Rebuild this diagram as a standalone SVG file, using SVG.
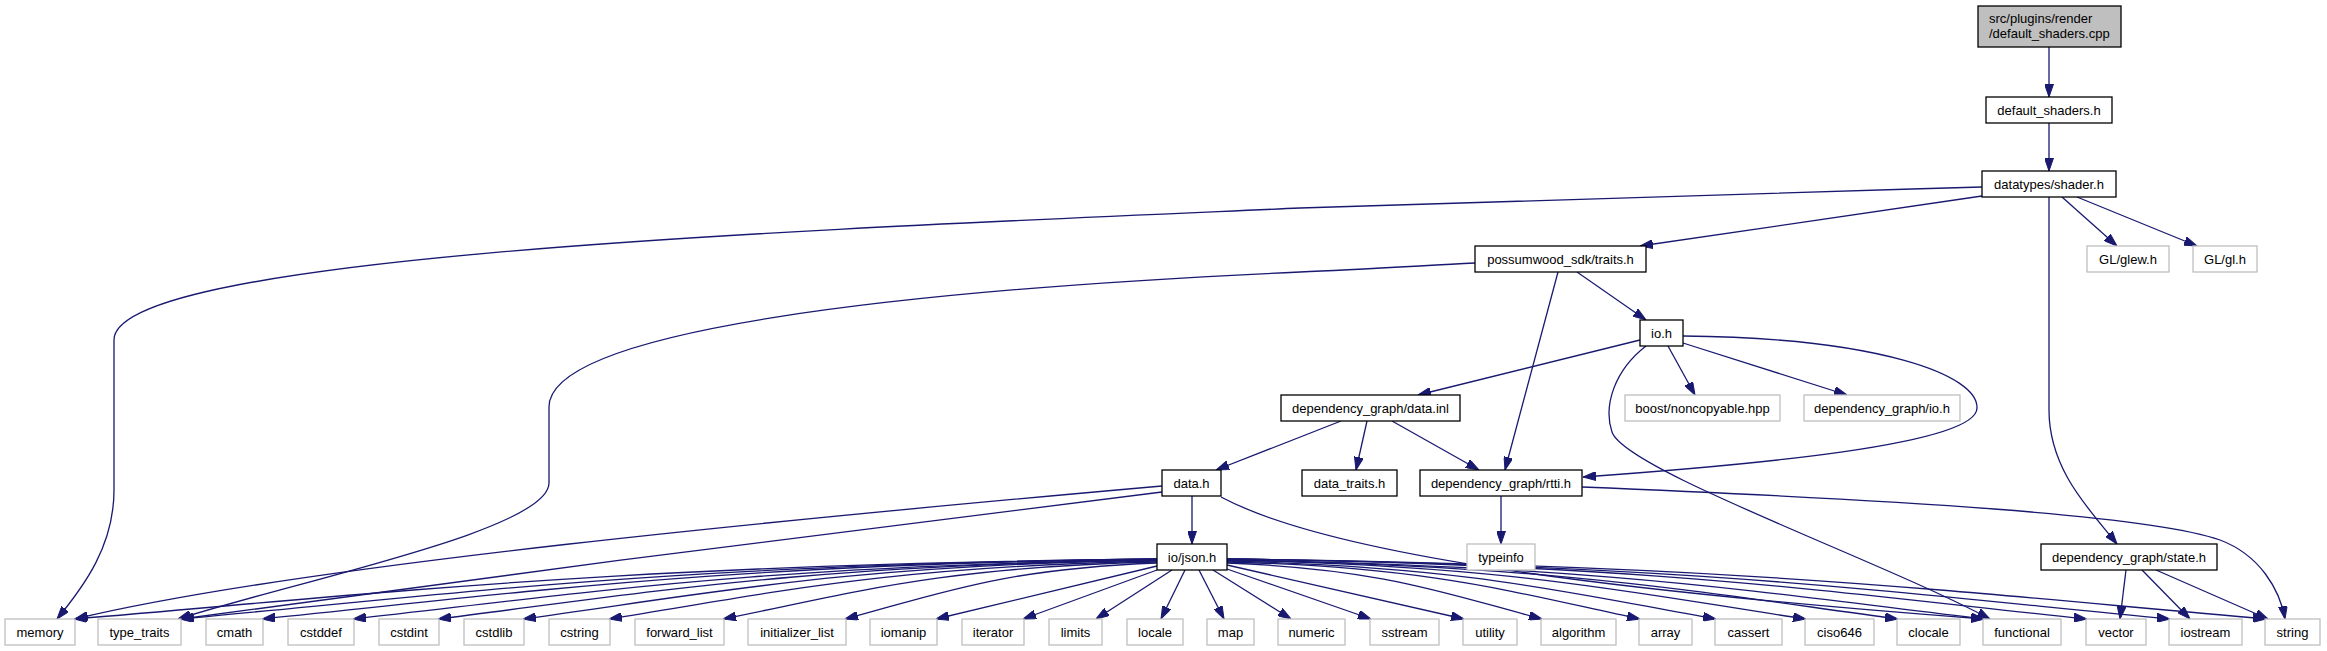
<svg xmlns="http://www.w3.org/2000/svg" width="2327" height="651" viewBox="0 0 2327 651">
<defs>
<marker id="arr" viewBox="0 0 13 9" refX="13" refY="4.5" markerWidth="13" markerHeight="9" markerUnits="userSpaceOnUse" orient="auto">
<path d="M0,0 L13,4.5 L0,9 z" fill="#191970" stroke="#191970" stroke-width="1"/>
</marker>
<style>
.e{fill:none;stroke:#191970;stroke-width:1.3;marker-end:url(#arr)}
.n rect{fill:#ffffff;stroke:#000000;stroke-width:1.3}
.g rect{fill:#ffffff;stroke:#bfbfbf;stroke-width:1.3}
.root rect{fill:#bfbfbf;stroke:#000000;stroke-width:1.3}
text{font-family:"Liberation Sans",Helvetica,Arial,sans-serif;font-size:13px;fill:#000000;text-anchor:middle}
.root text{text-anchor:start}
</style>
</defs>
<rect x="0" y="0" width="2327" height="651" fill="#ffffff"/>
<g id="edges">
<path class="e" d="M2049,47 L2049,97"/>
<path class="e" d="M2049,123 L2049,171"/>
<path class="e" d="M1982,187 C1700,195 1400,203 1300,208 C800,230 114,255 114,340 L114,490 C114,545 85,585 57,619"/>
<path class="e" d="M1982,196 L1640,246"/>
<path class="e" d="M2062,197 L2117,246"/>
<path class="e" d="M2077,197 L2197,246"/>
<path class="e" d="M2049,197 L2049,410 C2049,470 2090,510 2117,544"/>
<path class="e" d="M1475,263 C1400,267 1350,270 1300,272 C900,290 549,330 549,407 L549,483 C549,530 300,580 178,619"/>
<path class="e" d="M1577,272 L1646,320"/>
<path class="e" d="M1558,272 L1505,470"/>
<path class="e" d="M1640,340 L1418,395"/>
<path class="e" d="M1668,346 L1695,395"/>
<path class="e" d="M1683,343 L1847,395"/>
<path class="e" d="M1683,336 C1880,338 1978,375 1977,408 C1977,445 1750,465 1583,477"/>
<path class="e" d="M1646,346 C1615,370 1603,405 1612,432 C1625,470 1880,560 1990,619"/>
<path class="e" d="M1341,421 L1216,470"/>
<path class="e" d="M1367,421 L1356,470"/>
<path class="e" d="M1392,421 L1479,470"/>
<path class="e" d="M1192,496 L1192,544"/>
<path class="e" d="M1162,486 C800,518 300,565 75,619"/>
<path class="e" d="M1162,492 C850,530 500,575 181,619"/>
<path class="e" d="M1221,497 C1330,555 1600,590 1984,619"/>
<path class="e" d="M1501,496 L1501,544"/>
<path class="e" d="M1582,487 C1900,500 2150,515 2220,540 C2260,555 2280,590 2285,619"/>
<path class="e" d="M2126,570 L2120,619"/>
<path class="e" d="M2142,570 L2190,619"/>
<path class="e" d="M2156,570 L2268,619"/>
<path class="e" d="M1157,559 C615,565 399,592 74,619"/>
<path class="e" d="M1157,559 C668,565 473,592 180,619"/>
<path class="e" d="M1157,559 C710,565 531,592 262,619"/>
<path class="e" d="M1157,560 C755,566 594,592 353,619"/>
<path class="e" d="M1157,560 C797,566 654,592 438,619"/>
<path class="e" d="M1157,560 C840,566 713,593 523,619"/>
<path class="e" d="M1157,561 C883,567 773,593 609,619"/>
<path class="e" d="M1157,562 C940,567 853,593 723,619"/>
<path class="e" d="M1157,563 C1001,569 939,594 845,619"/>
<path class="e" d="M1157,566 L936,619"/>
<path class="e" d="M1157,570 L1023,619"/>
<path class="e" d="M1172,570 L1096,619"/>
<path class="e" d="M1185,570 L1161,619"/>
<path class="e" d="M1199,570 L1224,619"/>
<path class="e" d="M1213,570 L1291,619"/>
<path class="e" d="M1227,569 L1371,619"/>
<path class="e" d="M1227,565 L1464,619"/>
<path class="e" d="M1227,563 C1384,569 1447,594 1542,619"/>
<path class="e" d="M1227,562 C1433,567 1516,593 1640,619"/>
<path class="e" d="M1227,561 C1471,567 1569,593 1716,619"/>
<path class="e" d="M1227,560 C1516,566 1632,593 1806,619"/>
<path class="e" d="M1227,560 C1562,566 1697,592 1898,619"/>
<path class="e" d="M1227,560 C1605,566 1757,592 1984,619"/>
<path class="e" d="M1227,559 C1657,565 1829,592 2087,619"/>
<path class="e" d="M1227,559 C1698,565 1887,592 2170,619"/>
<path class="e" d="M1227,559 C1746,565 1954,592 2266,619"/>
</g>
<g id="node_root" class="root"><rect x="1978" y="6" width="143" height="41"/><text x="1989" y="23">src/plugins/render</text><text x="1989" y="38">/default_shaders.cpp</text></g>
<g id="node_default_shaders_h" class="n"><rect x="1986" y="97" width="126" height="26"/><text x="2049" y="114.5">default_shaders.h</text></g>
<g id="node_shader_h" class="n"><rect x="1982" y="171" width="134" height="26"/><text x="2049" y="188.5">datatypes/shader.h</text></g>
<g id="node_traits_h" class="n"><rect x="1475" y="246" width="171" height="26"/><text x="1560.5" y="263.5">possumwood_sdk/traits.h</text></g>
<g id="node_glew_h" class="g"><rect x="2087" y="246" width="82" height="26"/><text x="2128" y="263.5">GL/glew.h</text></g>
<g id="node_gl_h" class="g"><rect x="2193" y="246" width="64" height="26"/><text x="2225" y="263.5">GL/gl.h</text></g>
<g id="node_io_h" class="n"><rect x="1640" y="320" width="43" height="26"/><text x="1661.5" y="337.5">io.h</text></g>
<g id="node_data_inl" class="n"><rect x="1281" y="395" width="179" height="26"/><text x="1370.5" y="412.5">dependency_graph/data.inl</text></g>
<g id="node_noncopyable" class="g"><rect x="1625" y="395" width="155" height="26"/><text x="1702.5" y="412.5">boost/noncopyable.hpp</text></g>
<g id="node_dg_io_h" class="g"><rect x="1804" y="395" width="156" height="26"/><text x="1882" y="412.5">dependency_graph/io.h</text></g>
<g id="node_data_h" class="n"><rect x="1162" y="470" width="59" height="26"/><text x="1191.5" y="487.5">data.h</text></g>
<g id="node_data_traits_h" class="n"><rect x="1302" y="470" width="95" height="26"/><text x="1349.5" y="487.5">data_traits.h</text></g>
<g id="node_rtti_h" class="n"><rect x="1420" y="470" width="162" height="26"/><text x="1501" y="487.5">dependency_graph/rtti.h</text></g>
<g id="node_json_h" class="n"><rect x="1157" y="544" width="70" height="26"/><text x="1192" y="561.5">io/json.h</text></g>
<g id="node_typeinfo" class="g"><rect x="1467" y="544" width="68" height="26"/><text x="1501" y="561.5">typeinfo</text></g>
<g id="node_state_h" class="n"><rect x="2041" y="544" width="176" height="26"/><text x="2129" y="561.5">dependency_graph/state.h</text></g>
<g id="node_memory" class="g"><rect x="5" y="619" width="70" height="26"/><text x="40" y="636.5">memory</text></g>
<g id="node_type_traits" class="g"><rect x="98" y="619" width="83" height="26"/><text x="139.5" y="636.5">type_traits</text></g>
<g id="node_cmath" class="g"><rect x="206" y="619" width="57" height="26"/><text x="234.5" y="636.5">cmath</text></g>
<g id="node_cstddef" class="g"><rect x="288" y="619" width="66" height="26"/><text x="321" y="636.5">cstddef</text></g>
<g id="node_cstdint" class="g"><rect x="379" y="619" width="60" height="26"/><text x="409" y="636.5">cstdint</text></g>
<g id="node_cstdlib" class="g"><rect x="464" y="619" width="60" height="26"/><text x="494" y="636.5">cstdlib</text></g>
<g id="node_cstring" class="g"><rect x="549" y="619" width="61" height="26"/><text x="579.5" y="636.5">cstring</text></g>
<g id="node_forward_list" class="g"><rect x="635" y="619" width="89" height="26"/><text x="679.5" y="636.5">forward_list</text></g>
<g id="node_initializer_list" class="g"><rect x="748" y="619" width="98" height="26"/><text x="797" y="636.5">initializer_list</text></g>
<g id="node_iomanip" class="g"><rect x="870" y="619" width="67" height="26"/><text x="903.5" y="636.5">iomanip</text></g>
<g id="node_iterator" class="g"><rect x="962" y="619" width="62" height="26"/><text x="993" y="636.5">iterator</text></g>
<g id="node_limits" class="g"><rect x="1049" y="619" width="53" height="26"/><text x="1075.5" y="636.5">limits</text></g>
<g id="node_locale" class="g"><rect x="1127" y="619" width="56" height="26"/><text x="1155" y="636.5">locale</text></g>
<g id="node_map" class="g"><rect x="1207" y="619" width="47" height="26"/><text x="1230.5" y="636.5">map</text></g>
<g id="node_numeric" class="g"><rect x="1278" y="619" width="67" height="26"/><text x="1311.5" y="636.5">numeric</text></g>
<g id="node_sstream" class="g"><rect x="1370" y="619" width="69" height="26"/><text x="1404.5" y="636.5">sstream</text></g>
<g id="node_utility" class="g"><rect x="1463" y="619" width="54" height="26"/><text x="1490" y="636.5">utility</text></g>
<g id="node_algorithm" class="g"><rect x="1541" y="619" width="75" height="26"/><text x="1578.5" y="636.5">algorithm</text></g>
<g id="node_array" class="g"><rect x="1639" y="619" width="53" height="26"/><text x="1665.5" y="636.5">array</text></g>
<g id="node_cassert" class="g"><rect x="1715" y="619" width="67" height="26"/><text x="1748.5" y="636.5">cassert</text></g>
<g id="node_ciso646" class="g"><rect x="1805" y="619" width="69" height="26"/><text x="1839.5" y="636.5">ciso646</text></g>
<g id="node_clocale" class="g"><rect x="1897" y="619" width="63" height="26"/><text x="1928.5" y="636.5">clocale</text></g>
<g id="node_functional" class="g"><rect x="1983" y="619" width="78" height="26"/><text x="2022" y="636.5">functional</text></g>
<g id="node_vector" class="g"><rect x="2086" y="619" width="60" height="26"/><text x="2116" y="636.5">vector</text></g>
<g id="node_iostream" class="g"><rect x="2169" y="619" width="73" height="26"/><text x="2205.5" y="636.5">iostream</text></g>
<g id="node_string" class="g"><rect x="2265" y="619" width="55" height="26"/><text x="2292.5" y="636.5">string</text></g>
</svg>
